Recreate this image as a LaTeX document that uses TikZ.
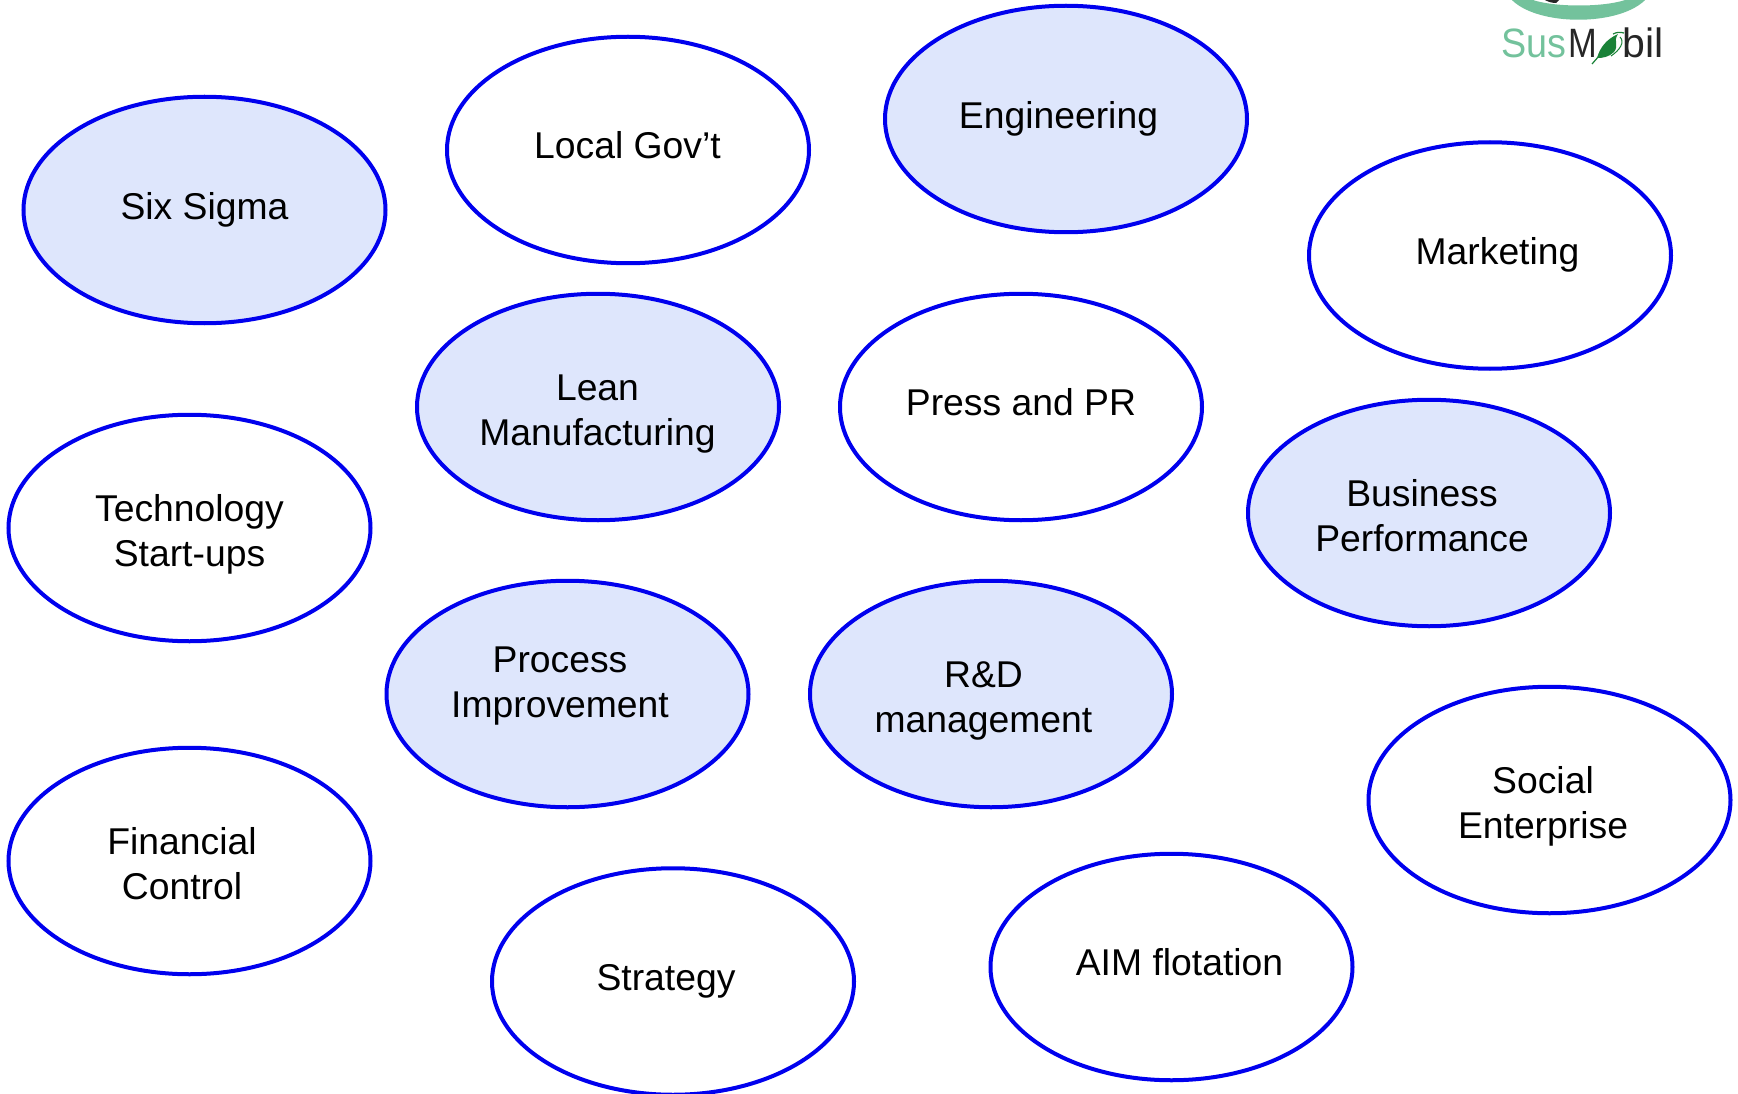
\documentclass[tikz,border=0pt]{standalone}
\usepackage{fontspec}
\setmainfont{Liberation Sans}
\usetikzlibrary{shapes.geometric}
\definecolor{bubbleblue}{HTML}{0000EE}
\definecolor{bubblefill}{HTML}{DEE6FC}
\definecolor{logogreen}{HTML}{73C29C}
\definecolor{leafgreen}{HTML}{1A8238}
\tikzset{
  bubble/.style={ellipse,draw=bubbleblue,line width=4pt,minimum width=362pt,minimum height=226.5pt,inner sep=0pt},
  shaded bubble/.style={bubble,fill=bubblefill},
  plain bubble/.style={bubble,fill=white},
  bubble text/.style={anchor=base,align=center,inner sep=0pt,font=\fontsize{37.3}{45}\selectfont},
  logo text/.style={anchor=base west,inner sep=0pt,font=\fontsize{41}{41}\selectfont}
}
\newcommand{\bub}[7]{%
  \node[#4 bubble] (#1) at (#2,#3) {};
  \node[bubble text] (#1t) at (#5,#6) {#7};
}
\begin{document}
\begin{tikzpicture}[x=1pt,y=-1pt]
\useasboundingbox (0,0) rectangle (1738,1094);
\bub{six}{204.5}{210}{shaded}{204.5}{219.5}{Six Sigma}
\bub{gov}{628}{150}{plain}{627.5}{158.5}{Local Gov’t}
\bub{eng}{1066}{119}{shaded}{1058.5}{128.5}{Engineering}
\bub{mkt}{1490}{255.5}{plain}{1497.5}{264.5}{Marketing}
\bub{lean}{598}{407}{shaded}{597.5}{445}{Lean\\Manufacturing}
\bub{press}{1021}{407}{plain}{1021}{415}{Press and PR}
\bub{biz}{1429}{513}{shaded}{1422}{551}{Business\\Performance}
\bub{tech}{189.5}{528}{plain}{189.5}{566}{Technology\\Start-ups}
\bub{proc}{567.5}{694}{shaded}{560}{717}{Process\\Improvement}
\bub{rd}{991}{694}{shaded}{983.5}{732}{R\&D\\management}
\bub{soc}{1549.5}{800}{plain}{1543}{838}{Social\\Enterprise}
\bub{fin}{189.5}{861}{plain}{182}{899}{Financial\\Control}
\bub{strat}{673}{981.5}{plain}{666}{990}{Strategy}
\bub{aim}{1171.5}{967}{plain}{1179.5}{975}{AIM flotation}
% logo
\begin{scope}
\clip (1450,0) rectangle (1738,80);
\fill[logogreen] (1510,-2) .. controls (1535,27) and (1622,27) .. (1647,-2) -- (1630,-2) .. controls (1610,8) and (1548,8) .. (1528,-2) -- cycle;
\fill[black!85] (1543,-1) .. controls (1548,2) and (1552,3) .. (1556,3) -- (1560,-1) -- cycle;
\end{scope}
\node[logo text,text=logogreen,xscale=0.92] (sus) at (1501,58) {Sus};
\node[logo text,text=black!85,xscale=0.84] (em) at (1568,58) {M};
\node[logo text,text=black!85] (bil) at (1622,58) {bil};
\fill[leafgreen] (1597,58) .. controls (1600,47) and (1607,39) .. (1618,34) .. controls (1613,41) and (1619,46) .. (1614,52) .. controls (1609,57) and (1603,58) .. (1597,58) -- cycle;
\draw[leafgreen,line width=1.2pt] (1592,64) -- (1599,56);
\draw[leafgreen,line width=1.2pt] (1613,34) .. controls (1617,32) and (1620,32) .. (1624,33);
\draw[leafgreen,line width=1pt] (1620,37) .. controls (1625,42) and (1620,50) .. (1611,56);
\end{tikzpicture}
\end{document}
